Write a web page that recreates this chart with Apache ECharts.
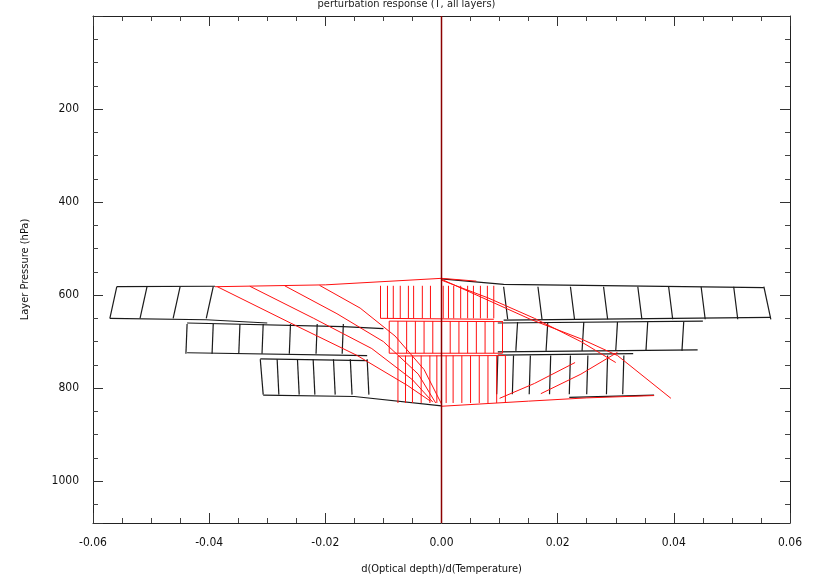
<!DOCTYPE html>
<html>
<head>
<meta charset="utf-8">
<script src="https://cdn.jsdelivr.net/npm/echarts@6/dist/echarts.min.js"></script>
<style>html,body{margin:0;padding:0;background:#fff}#c{width:813px;height:580px}</style>
</head>
<body>
<div id="c"></div>
<script>
// ---- axis settings ----
const xTicks = [-0.06, -0.04, -0.02, 0.00, 0.02, 0.04, 0.06];
const yTicks = [200, 400, 600, 800, 1000];
const pTopAxis = 0, pBottomAxis = 1090;

// ---- black mesh: rows (x, p) ----
const blackRowTopLeft = [[-0.0559, 582], [-0.039, 581]];
const blackRowTopRight = [[0, 565], [0.0107, 577], [0.0555, 584]];
const blackRowLeftA = [[-0.0571, 650], [-0.0405, 653], [-0.030, 660]];
const blackRowLeftBTop = [[-0.0438, 660], [-0.0169, 668], [-0.010, 672]];
const blackRowLeftBBot = [[-0.0438, 724], [-0.0128, 730]];
const blackRowLeftCTop = [[-0.0312, 737], [-0.0128, 741]];
const blackRowBottomLeft = [[-0.0307, 815], [-0.015, 818], [0, 838]];
const blackRowBottomRight = [[0.022, 820], [0.0366, 815]];
const blackRowRightA = [[0.0107, 654], [0.0567, 648]];
const blackRowRightBTop = [[0.0097, 660], [0.045, 656]];
const blackRowRightBBot = [[0.0097, 722], [0.0441, 718]];
const blackRowRightCTop = [[0.0097, 729], [0.033, 726]];

// ---- black verticals per band: top x, bottom x, [top p, bottom p] ----
const bLeftA_top = [-0.0559, -0.0507, -0.0450, -0.0393];
const bLeftA_bot = [-0.0571, -0.0519, -0.0462, -0.0405];
const bLeftA_p = [582, 650];
const bLeftB_top = [-0.0438, -0.0393, -0.0347, -0.0307, -0.0260, -0.0214, -0.0169];
const bLeftB_bot = [-0.0440, -0.0395, -0.0349, -0.0309, -0.0262, -0.0216, -0.0171];
const bLeftB_p = [662, 726];
const bLeftC_top = [-0.0312, -0.0283, -0.0248, -0.0221, -0.0186, -0.0157, -0.0128];
const bLeftC_bot = [-0.0307, -0.0280, -0.0245, -0.0218, -0.0183, -0.0154, -0.0125];
const bLeftC_p = [738, 814];
const bRightA_top = [0.0107, 0.0166, 0.0222, 0.0279, 0.0338, 0.0391, 0.0447, 0.0503, 0.0555];
const bRightA_bot = [0.0114, 0.0173, 0.0229, 0.0286, 0.0345, 0.0398, 0.0454, 0.0510, 0.0567];
const bRightA_p = [582, 652];
const bRightB_top = [0.0131, 0.0183, 0.0245, 0.0303, 0.0355, 0.0417];
const bRightB_bot = [0.0128, 0.0180, 0.0242, 0.0300, 0.0352, 0.0414];
const bRightB_p = [658, 720];
const bRightC_top = [0.0097, 0.0124, 0.0153, 0.0188, 0.0222, 0.0252, 0.0286, 0.0314];
const bRightC_bot = [0.0095, 0.0122, 0.0151, 0.0186, 0.0220, 0.0250, 0.0284, 0.0312];
const bRightC_p = [730, 813];

// ---- red mesh ----
const redRowTop = [[-0.039, 582], [-0.02, 578], [0, 564], [0.006, 570]];
const redRowBottom = [[0, 839], [0.015, 828], [0.025, 821], [0.0366, 816]];
const redRowA = [[-0.0105, 650], [0.009, 652]];
const redRowBTop = [[-0.009, 656], [0.0105, 657]];
const redRowBBot = [[-0.009, 725], [0.0105, 725]];
const redRowCTop = [[-0.0075, 731], [0.011, 730]];
const redA_x = [-0.0105, -0.0093, -0.0083, -0.0071, -0.0057, -0.0048, -0.0033, -0.0019, 0.0003, 0.0012, 0.0021, 0.0033, 0.0045, 0.0055, 0.0067, 0.0079, 0.0090];
const redA_p = [580, 650];
const redB_x = [-0.0090, -0.0075, -0.0060, -0.0045, -0.0030, -0.0015, 0.0015, 0.0030, 0.0045, 0.0060, 0.0075, 0.0090, 0.0105];
const redB_p = [656, 725];
const redC_x = [-0.0075, -0.0062, -0.0050, -0.0035, -0.0020, -0.0008, 0.0008, 0.0020, 0.0035, 0.0050, 0.0065, 0.0080, 0.0095, 0.0110];
const redC_p = [730, 832];

// ---- red fan lines ----
const redDiagonal = [[0, 566], [0.0153, 652], [0.024, 694], [0.0303, 730], [0.0383, 810], [0.0395, 822]];
const redFan1 = [[-0.0386, 582], [-0.026, 660], [-0.0145, 730], [-0.0059, 794], [-0.0019, 828]];
const redFan2 = [[-0.033, 581], [-0.022, 650], [-0.012, 715], [-0.005, 782], [-0.0015, 830]];
const redFan3 = [[-0.027, 580], [-0.018, 640], [-0.010, 700], [-0.004, 770], [-0.001, 832]];
const redFan4 = [[-0.021, 579], [-0.014, 628], [-0.008, 688], [-0.003, 760], [0, 834]];
const redFan5 = [[0, 568], [0.008, 606], [0.016, 650], [0.024, 700], [0.030, 745]];
const redFan6 = [[0.0171, 812], [0.0240, 770], [0.0303, 723]];
const redFan7 = [[0.0100, 822], [0.0160, 790], [0.0230, 745]];

const centerX = 0;

function verticals(tops, bots, p) {
  return tops.map((x, i) => ({ coords: [[x, p[0]], [bots[i], p[1]]] }));
}
function straight(xs, p) {
  return xs.map(x => ({ coords: [[x, p[0]], [x, p[1]]] }));
}
function polys(list) { return list.map(c => ({ coords: c })); }

const FONT = 'DejaVu Sans Condensed, DejaVu Sans, sans-serif';
const BLACK = '#1a1a1a', RED = '#ff1010';

const chart = echarts.init(document.getElementById('c'), null, { renderer: 'canvas' });

const xAxisCommon = {
  type: 'value', min: -0.06, max: 0.06, interval: 0.02,
  axisLine: { show: true, onZero: false, lineStyle: { color: '#222', width: 1 } },
  axisTick: { show: true, inside: true, length: 10, lineStyle: { color: '#333' } },
  minorTick: { show: true, splitNumber: 4, length: 5, lineStyle: { color: '#444' } },
  splitLine: { show: false }
};
const yAxisCommon = {
  type: 'value', inverse: true, min: pTopAxis, max: pBottomAxis, interval: 200,
  axisLine: { show: true, onZero: false, lineStyle: { color: '#222', width: 1 } },
  axisTick: { show: true, inside: true, length: 10, lineStyle: { color: '#333' } },
  minorTick: { show: true, splitNumber: 4, length: 5, lineStyle: { color: '#444' } },
  splitLine: { show: false }
};

const option = {
  animation: false,
  backgroundColor: '#fff',
  title: {
    text: 'perturbation response (T, all layers)',
    left: 'center', top: -6,
    textStyle: { fontFamily: FONT, fontSize: 11, fontWeight: 'normal', color: '#222' }
  },
  grid: { left: 93, right: 23, top: 16, bottom: 50 },
  xAxis: [
    Object.assign({}, xAxisCommon, {
      position: 'bottom',
      name: 'd(Optical depth)/d(Temperature)',
      nameLocation: 'middle', nameGap: 41,
      nameTextStyle: { fontFamily: FONT, fontSize: 11, color: '#111' },
      axisLabel: {
        show: true, margin: 14, fontFamily: FONT, fontSize: 12, color: '#111',
        formatter: v => xTicks.some(t => Math.abs(t - v) < 1e-9) ? v.toFixed(2) : ''
      }
    }),
    Object.assign({}, xAxisCommon, { position: 'top', axisLabel: { show: false } })
  ],
  yAxis: [
    Object.assign({}, yAxisCommon, {
      position: 'left',
      name: 'Layer Pressure (hPa)',
      nameLocation: 'middle', nameGap: 62, nameRotate: 90,
      nameTextStyle: { fontFamily: FONT, fontSize: 11, color: '#111' },
      axisLabel: {
        show: true, margin: 14, fontFamily: FONT, fontSize: 12, color: '#111',
        showMinLabel: false, showMaxLabel: false,
        formatter: v => yTicks.indexOf(v) >= 0 ? String(v) : ''
      }
    }),
    Object.assign({}, yAxisCommon, { position: 'right', axisLabel: { show: false } })
  ],
  series: [
    {
      type: 'lines', coordinateSystem: 'cartesian2d', polyline: true, silent: true,
      lineStyle: { color: BLACK, width: 1.2, opacity: 1 },
      data: polys([blackRowTopLeft, blackRowTopRight, blackRowLeftA, blackRowLeftBTop, blackRowLeftBBot,
        blackRowLeftCTop, blackRowBottomLeft, blackRowBottomRight, blackRowRightA, blackRowRightBTop,
        blackRowRightBBot, blackRowRightCTop])
        .concat(verticals(bLeftA_top, bLeftA_bot, bLeftA_p))
        .concat(verticals(bLeftB_top, bLeftB_bot, bLeftB_p))
        .concat(verticals(bLeftC_top, bLeftC_bot, bLeftC_p))
        .concat(verticals(bRightA_top, bRightA_bot, bRightA_p))
        .concat(verticals(bRightB_top, bRightB_bot, bRightB_p))
        .concat(verticals(bRightC_top, bRightC_bot, bRightC_p))
    },
    {
      type: 'lines', coordinateSystem: 'cartesian2d', polyline: true, silent: true,
      lineStyle: { color: RED, width: 1, opacity: 1 },
      data: polys([redRowTop, redRowBottom, redRowA, redRowBTop, redRowBBot, redRowCTop,
        redDiagonal, redFan1, redFan2, redFan3, redFan4, redFan5, redFan6, redFan7])
        .concat(straight(redA_x, redA_p))
        .concat(straight(redB_x, redB_p))
        .concat(straight(redC_x, redC_p))
    },
    {
      type: 'line', silent: true, symbol: 'none',
      lineStyle: { color: '#8b0000', width: 1.5 },
      data: [[centerX, pTopAxis], [centerX, pBottomAxis]]
    }
  ]
};
chart.setOption(option);
</script>
</body>
</html>
